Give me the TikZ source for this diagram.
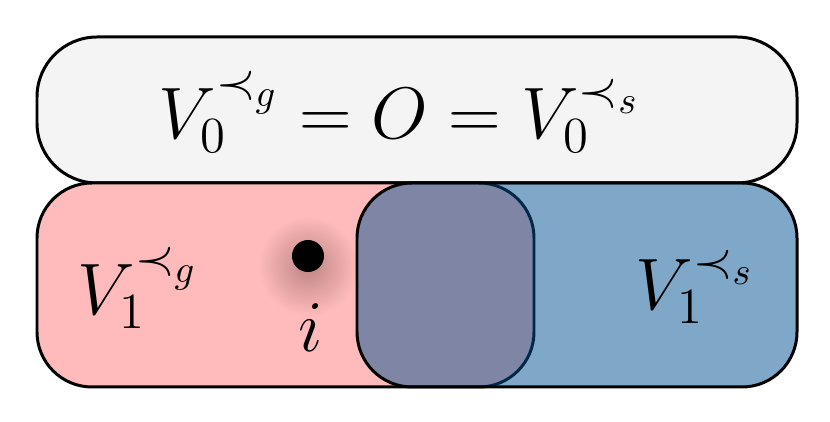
\documentclass[tikz,border=0pt]{standalone}
\usetikzlibrary{shapes.misc}
\definecolor{topfill}{RGB}{244,244,244}
\definecolor{redfill}{RGB}{255,187,187}
\definecolor{bluefill}{RGB}{0,81,145}
\definecolor{shadowc}{RGB}{190,132,132}
\begin{document}
\begin{tikzpicture}[x=0.01cm,y=-0.01cm,
  boxline/.style={draw=black,line width=0.85pt,rounded corners=0.55cm},
  lbl/.style={inner sep=0pt,anchor=base west,font=\fontsize{22.4}{27}\selectfont}]
\useasboundingbox (0,0) rectangle (830,422);
% top box
\draw[boxline,rounded corners=0.6cm,fill=topfill] (37,37) rectangle (797,183);
% red box
\draw[boxline,fill=redfill] (37,183) rectangle (534,387);
% shadow of the point
\shade[inner color=shadowc,outer color=redfill] (308,266) circle (50);
% blue box
\draw[boxline,fill=bluefill,fill opacity=0.5] (357,183) rectangle (797,387);
% point i
\node[circle,fill=black,inner sep=0pt,minimum size=0.32cm] (pt) at (308,256) {};
\node[lbl,anchor=base] (ilbl) at (311,352) {$i$};
% labels
\node[lbl] (top) at (158,139) {$V_0^{\prec_g} = O = V_0^{\prec_s}$};
\node[lbl] (v1g) at (77,315) {$V_1^{\prec_g}$};
\node[lbl] (v1s) at (635,310) {$V_1^{\prec_s}$};
\end{tikzpicture}
\end{document}
